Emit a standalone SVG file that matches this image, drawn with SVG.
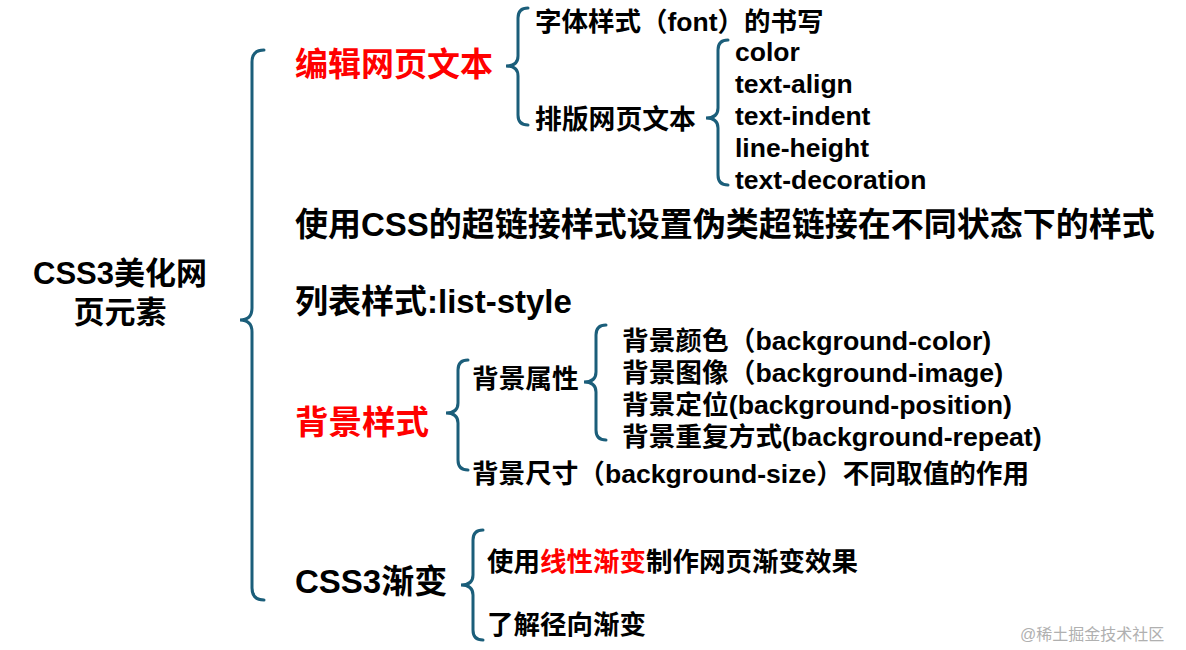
<svg xmlns="http://www.w3.org/2000/svg" width="1186" height="650" viewBox="0 0 1186 650">
<style>
text{font-family:"Liberation Sans","Noto Sans CJK SC",sans-serif;font-weight:bold;fill:#000}
.r{fill:#ff0000}
.b{fill:none;stroke:#1b5e7a;stroke-width:3;stroke-linecap:round}
</style>
<rect width="1186" height="650" fill="#fff"/>
<g id="connectors">
<path class="b" d="M264,50 Q252,50 252,62 L252,308 Q252,320 240,320 Q252,320 252,332 L252,588 Q252,600 264,600"/>
<path class="b" d="M528,8 Q518,8 518,18 L518,56 Q518,66 506,66 Q518,66 518,76 L518,115 Q518,125 528,125"/>
<path class="b" d="M728,40 Q718,40 718,50 L718,108 Q718,118 706,118 Q718,118 718,128 L718,175 Q718,185 728,185"/>
<path class="b" d="M468,360 Q458,360 458,370 L458,403 Q458,413 446,413 Q458,413 458,423 L458,460 Q458,470 468,470"/>
<path class="b" d="M606,325 Q596,325 596,335 L596,372 Q596,382 584,382 Q596,382 596,392 L596,430 Q596,440 606,440"/>
<path class="b" d="M483,530 Q473,530 473,540 L473,575 Q473,585 461,585 Q473,585 473,595 L473,630 Q473,640 483,640"/>
</g>
<g id="root"><text x="120" y="284" font-size="31" text-anchor="middle">CSS3美化网</text><text x="120" y="323" font-size="31" text-anchor="middle">页元素</text></g>
<g id="n1"><text x="295" y="76" font-size="33" class="r">编辑网页文本</text></g>
<g id="n1a"><text x="535" y="31" font-size="26.5">字体样式（font）的书写</text></g>
<g id="n1b"><text x="535" y="129" font-size="26.8">排版网页文本</text></g>
<g id="n1b1"><text x="735" y="61" font-size="26.5">color</text></g>
<g id="n1b2"><text x="735" y="93" font-size="26.5">text-align</text></g>
<g id="n1b3"><text x="735" y="125" font-size="26.5">text-indent</text></g>
<g id="n1b4"><text x="735" y="157" font-size="26.5">line-height</text></g>
<g id="n1b5"><text x="735" y="189" font-size="26.5">text-decoration</text></g>
<g id="n2"><text x="295" y="236" font-size="33">使用CSS的超链接样式设置伪类超链接在不同状态下的样式</text></g>
<g id="n3"><text x="295" y="313" font-size="33">列表样式:list-style</text></g>
<g id="n4"><text x="295" y="434" font-size="33.5" class="r">背景样式</text></g>
<g id="n4a"><text x="472" y="388" font-size="26.7">背景属性</text></g>
<g id="n4a1"><text x="622" y="350" font-size="26.7">背景颜色（background-color)</text></g>
<g id="n4a2"><text x="622" y="382" font-size="26.7">背景图像（background-image)</text></g>
<g id="n4a3"><text x="622" y="414" font-size="26.7">背景定位(background-position)</text></g>
<g id="n4a4"><text x="622" y="446" font-size="26.7">背景重复方式(background-repeat)</text></g>
<g id="n4b"><text x="472" y="483" font-size="26.6">背景尺寸（background-size）不同取值的作用</text></g>
<g id="n5"><text x="295" y="593" font-size="33">CSS3渐变</text></g>
<g id="n5a"><text x="487" y="571" font-size="26.5">使用<tspan class="r">线性渐变</tspan>制作网页渐变效果</text></g>
<g id="n5b"><text x="487" y="634" font-size="26.5">了解径向渐变</text></g>
<text x="1020" y="640" font-size="16" style="font-weight:normal;fill:#b0b0b0">@稀土掘金技术社区</text>
</svg>
